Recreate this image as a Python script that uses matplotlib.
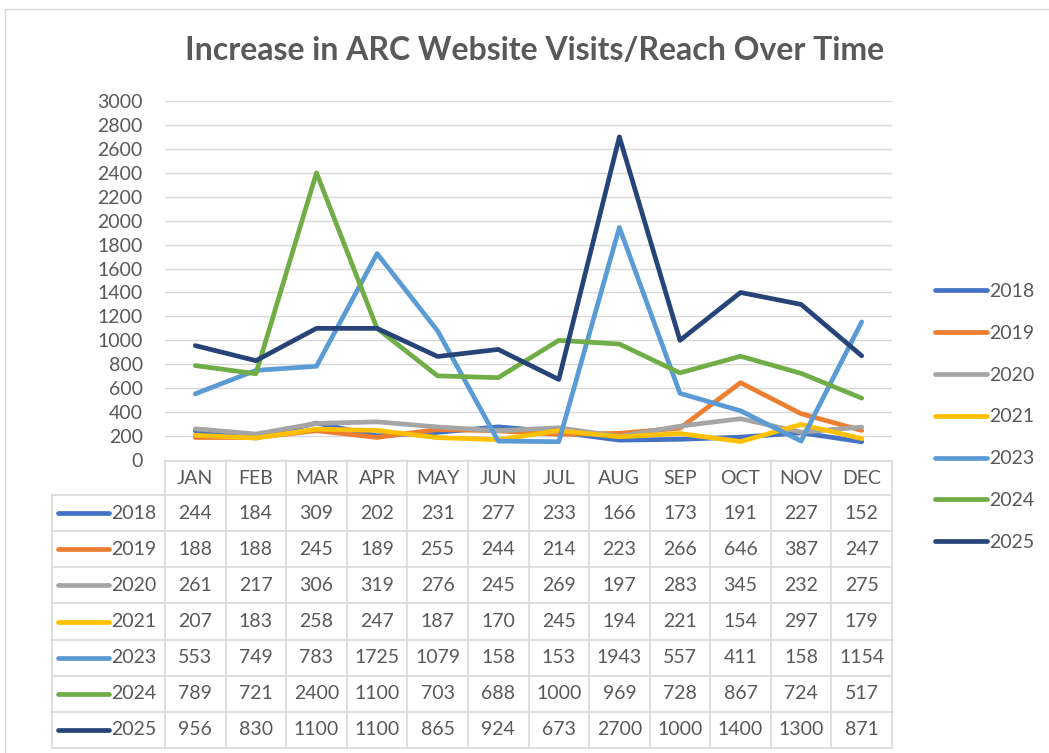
import matplotlib.pyplot as plt

plt.rcParams['font.family'] = ['Lato', 'DejaVu Sans']

months = ['JAN', 'FEB', 'MAR', 'APR', 'MAY', 'JUN',
          'JUL', 'AUG', 'SEP', 'OCT', 'NOV', 'DEC']
years = ['2018', '2019', '2020', '2021', '2023', '2024', '2025']

visits_2018 = [244, 184, 309, 202, 231, 277, 233, 166, 173, 191, 227, 152]
visits_2019 = [188, 188, 245, 189, 255, 244, 214, 223, 266, 646, 387, 247]
visits_2020 = [261, 217, 306, 319, 276, 245, 269, 197, 283, 345, 232, 275]
visits_2021 = [207, 183, 258, 247, 187, 170, 245, 194, 221, 154, 297, 179]
visits_2023 = [553, 749, 783, 1725, 1079, 158, 153, 1943, 557, 411, 158, 1154]
visits_2024 = [789, 721, 2400, 1100, 703, 688, 1000, 969, 728, 867, 724, 517]
visits_2025 = [956, 830, 1100, 1100, 865, 924, 673, 2700, 1000, 1400, 1300, 871]

series = [visits_2018, visits_2019, visits_2020, visits_2021,
          visits_2023, visits_2024, visits_2025]
colors = ['#4472C4', '#ED7D31', '#A5A5A5', '#FFC000',
          '#5B9BD5', '#70AD47', '#264478']

TEXT = '#595959'
GRID = '#d9d9d9'
W, H = 1049, 753

fig = plt.figure(figsize=(W / 100, H / 100), dpi=100)

# pixel-space helper axes for the frame and data table
tab = fig.add_axes([0, 0, 1, 1])
tab.set_xlim(0, W)
tab.set_ylim(H, 0)
tab.axis('off')

# chart frame
tab.plot([5, 5], [9, H], color=GRID, lw=1)
tab.plot([5, W], [9, 9], color=GRID, lw=1)

fig.text(535 / W, 1 - 50 / H, 'Increase in ARC Website Visits/Reach Over Time',
         ha='center', va='center', fontsize=23, fontweight='bold', color=TEXT)

# line chart
ax = fig.add_axes([165 / W, 1 - 460 / H, 727 / W, 359 / H])
ax.set_facecolor('none')
x = range(len(months))
lines = []
for yr, vals, c in zip(years, series, colors):
    ln, = ax.plot(x, vals, color=c, lw=3.4, label=yr,
                  solid_joinstyle='round', solid_capstyle='round')
    lines.append(ln)
ax.set_xlim(-0.5, 11.5)
ax.set_ylim(0, 3000)
ax.set_yticks(range(0, 3001, 200))
ax.set_xticks([])
ax.grid(axis='y', color=GRID, lw=1)
ax.set_axisbelow(True)
for s in ax.spines.values():
    s.set_visible(False)
ax.tick_params(axis='y', length=0, pad=16, labelsize=14, labelcolor=TEXT)

fig.legend(handles=lines, loc='center left',
           bbox_to_anchor=(925 / W, 1 - 417 / H), frameon=False,
           fontsize=14, labelcolor=TEXT, handlelength=2.7,
           handletextpad=0.12, labelspacing=1.28, borderpad=0)

# data table
x0, c0, c1 = 52, 165, 892
cw = (c1 - c0) / len(months)
top, hdr = 461, 495
rh = (748 - hdr) / len(years)

tab.plot([c0, c1], [top, top], color=GRID, lw=1.2)
for i in range(len(years) + 1):
    tab.plot([x0, c1], [hdr + i * rh] * 2, color=GRID, lw=1.2)
tab.plot([x0, x0], [hdr, 748], color=GRID, lw=1.2)
for j in range(len(months) + 1):
    tab.plot([c0 + j * cw] * 2, [top, 748], color=GRID, lw=1.2)

for j, m in enumerate(months):
    tab.text(c0 + (j + 0.5) * cw, (top + hdr) / 2, m, ha='center',
             va='center', fontsize=14, color=TEXT)

for i, (yr, vals, c) in enumerate(zip(years, series, colors)):
    yc = hdr + (i + 0.5) * rh
    tab.plot([58, 109], [yc, yc], color=c, lw=3.4, solid_capstyle='round')
    tab.text(111, yc, yr, ha='left', va='center', fontsize=14, color=TEXT)
    for j, v in enumerate(vals):
        tab.text(c0 + (j + 0.5) * cw, yc, str(v), ha='center',
                 va='center', fontsize=14, color=TEXT)

fig.savefig('out.png', dpi=100)
